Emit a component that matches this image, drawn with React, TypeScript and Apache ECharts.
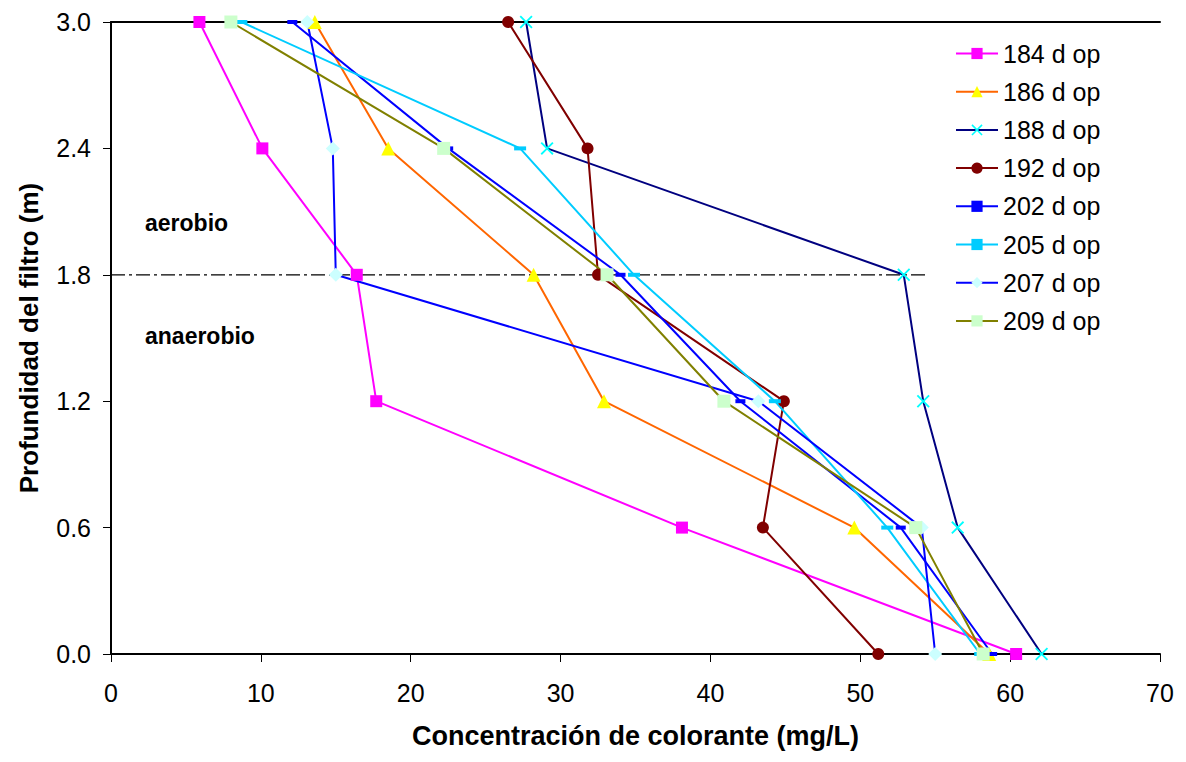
import React, { useEffect, useRef } from "react";
import * as echarts from "echarts";

const depths = [3.0, 2.4, 1.8, 1.2, 0.6, 0.0];
const seriesNames = ["184 d op", "186 d op", "188 d op", "192 d op", "202 d op", "205 d op", "207 d op", "209 d op"];
const s184 = [5.9, 10.1, 16.4, 17.7, 38.1, 60.4];
const s186 = [13.6, 18.5, 28.2, 32.9, 49.6, 58.6];
const s188 = [27.7, 29.1, 52.9, 54.2, 56.5, 62.1];
const s192 = [26.5, 31.8, 32.5, 44.9, 43.5, 51.2];
const s202 = [12.1, 22.5, 34.0, 42.0, 52.7, 58.8];
const s205 = [8.7, 27.3, 34.9, 44.3, 51.8, 58.0];
const s207 = [13.1, 14.8, 15.0, 43.2, 54.1, 55.0];
const s209 = [8.0, 22.2, 33.1, 40.9, 53.7, 58.2];
const boundaryDepth = 1.8;
const boundaryEnd = 54.5;
const zoneLabels = ["aerobio", "anaerobio"];

const FONT = "'Liberation Sans', Arial, sans-serif";
const XSYM = "path://M0,1 L1,0 L5,4 L9,0 L10,1 L6,5 L10,9 L9,10 L5,6 L1,10 L0,9 L4,5 Z";

function pts(vals: number[]) {
  return vals.map((v, i) => [v, depths[i]]);
}

export default function App() {
  const ref = useRef<HTMLDivElement>(null);
  useEffect(() => {
    if (!ref.current) return;
    const chart = echarts.init(ref.current, undefined, { renderer: "svg" });
    const styles = [
      { data: s184, line: "#FF00FF", sym: "rect", size: 12, fill: "#FF00FF" },
      { data: s186, line: "#FF6600", sym: "triangle", size: 14, fill: "#FFFF00" },
      { data: s188, line: "#000080", sym: XSYM, size: 13, fill: "#00FFFF" },
      { data: s192, line: "#800000", sym: "circle", size: 12, fill: "#800000" },
      { data: s202, line: "#0000FF", sym: "rect", size: [10, 4], fill: "#0000FF" },
      { data: s205, line: "#00CCFF", sym: "rect", size: [12, 4], fill: "#00CCFF" },
      { data: s207, line: "#0000FF", sym: "diamond", size: 14, fill: "#CCFFFF" },
      { data: s209, line: "#808000", sym: "rect", size: 13, fill: "#CCFFCC" },
    ];
    const series: any[] = styles.map((s, i) => ({
      name: seriesNames[i],
      type: "line",
      data: pts(s.data),
      symbol: s.sym,
      symbolSize: s.size,
      showSymbol: true,
      lineStyle: { color: s.line, width: 2 },
      itemStyle: { color: s.fill, borderWidth: 0 },
      z: 3,
    }));
    series.push({
      name: "boundary",
      type: "line",
      data: [[0, boundaryDepth], [boundaryEnd, boundaryDepth]],
      symbol: "none",
      silent: true,
      lineStyle: { color: "#000", width: 1.2, type: [14, 4, 3, 4] },
      z: 1,
    });
    chart.setOption({
      animation: false,
      textStyle: { fontFamily: FONT },
      grid: { left: 102, width: 1050, top: 14, height: 642 },
      xAxis: [
        {
          type: "value",
          min: 0,
          max: 70,
          interval: 10,
          position: "bottom",
          name: "Concentración de colorante (mg/L)",
          nameLocation: "middle",
          nameGap: 68,
          nameTextStyle: { fontSize: 27, fontWeight: "bold", color: "#000", fontFamily: FONT },
          axisLine: { show: true, lineStyle: { color: "#000", width: 2 } },
          axisTick: { show: true, inside: false, length: 8, lineStyle: { color: "#000", width: 1 } },
          axisLabel: { fontSize: 25, color: "#000", margin: 26, fontFamily: FONT },
          splitLine: { show: false },
        },
        {
          type: "value",
          min: 0,
          max: 70,
          position: "top",
          axisLine: { show: true, onZero: false, lineStyle: { color: "#000", width: 2 } },
          axisTick: { show: false },
          axisLabel: { show: false },
          splitLine: { show: false },
        },
      ],
      yAxis: {
        type: "value",
        min: 0,
        max: 3.0,
        interval: 0.6,
        name: "Profundidad del filtro (m)",
        nameLocation: "middle",
        nameGap: 69,
        nameTextStyle: { fontSize: 26, fontWeight: "bold", color: "#000", fontFamily: FONT },
        axisLine: { show: true, lineStyle: { color: "#000", width: 2 } },
        axisTick: { show: true, inside: false, length: 8, lineStyle: { color: "#000", width: 1 } },
        axisLabel: {
          fontSize: 25,
          color: "#000",
          margin: 20,
          fontFamily: FONT,
          formatter: (v: number) => v.toFixed(1),
        },
        splitLine: { show: false },
      },
      legend: {
        data: seriesNames,
        orient: "vertical",
        left: 942,
        top: 28,
        itemWidth: 42,
        itemHeight: 14,
        itemGap: 13.2,
        textStyle: { fontSize: 25, color: "#000", fontFamily: FONT, lineHeight: 25 },
      },
      graphic: [
        {
          type: "text",
          left: 137,
          top: 203,
          style: { text: zoneLabels[0], font: `bold 23px ${FONT}`, fill: "#000" },
        },
        {
          type: "text",
          left: 137,
          top: 316,
          style: { text: zoneLabels[1], font: `bold 23px ${FONT}`, fill: "#000" },
        },
      ],
      series,
    });
    return () => chart.dispose();
  }, []);
  return <div ref={ref} style={{ width: 1170, height: 746 }} />;
}
